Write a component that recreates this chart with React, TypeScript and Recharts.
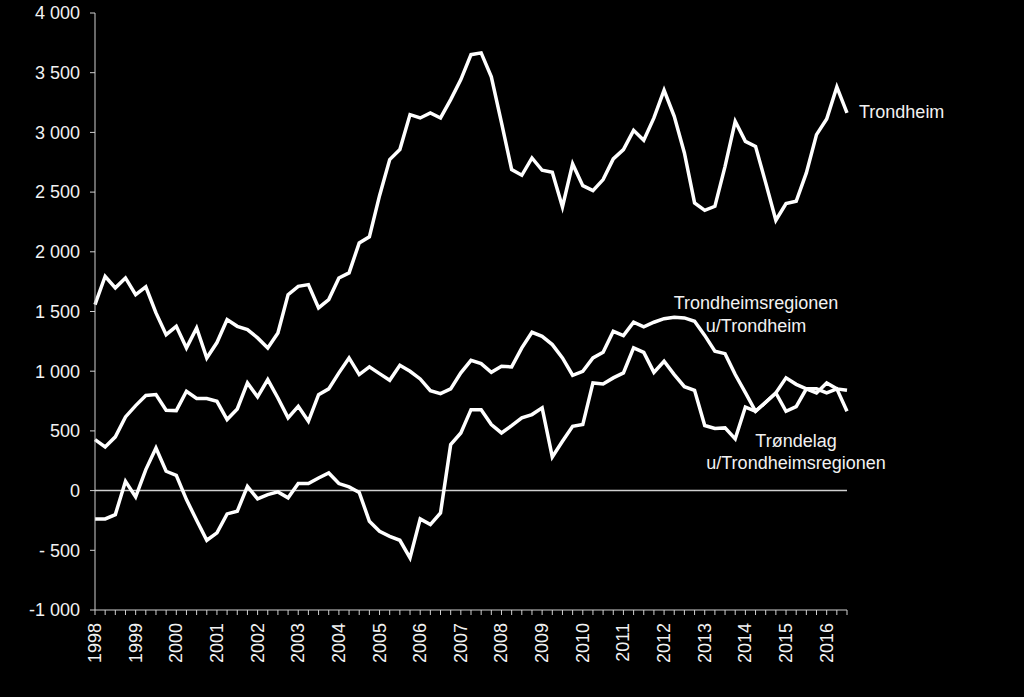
import { LineChart, Line, XAxis, YAxis, ReferenceLine } from "recharts";

// quarterly net migration, 1998 K1 - 2016 K3
const years = [1998, 1999, 2000, 2001, 2002, 2003, 2004, 2005, 2006, 2007, 2008, 2009, 2010, 2011, 2012, 2013, 2014, 2015, 2016];
const quarters: string[] = [];
years.forEach((y) => {
    for (let q = 1; q <= 4; q++) {
        if (y === 2016 && q === 4) return;
        quarters.push(`${y}K${q}`);
    }
});

const trondheim = [
    1558, 1795, 1698, 1781, 1641, 1706, 1488, 1306, 1376, 1195,
    1362, 1110, 1240, 1432, 1376, 1348, 1279, 1195, 1320, 1641,
    1711, 1725, 1530, 1600, 1781, 1823, 2074, 2125, 2470, 2772,
    2856, 3149, 3121, 3163, 3121, 3275, 3442, 3651, 3666, 3465,
    3082, 2688, 2641, 2786, 2683, 2666, 2376, 2736, 2554, 2512,
    2605, 2778, 2856, 3017, 2934, 3121, 3353, 3135, 2828, 2409,
    2347, 2381, 2716, 3093, 2925, 2883, 2577, 2264, 2404, 2423,
    2661, 2981, 3113, 3381, 3163,
];

const regionen = [
    427, 366, 450, 617, 712, 796, 804, 673, 670, 832,
    771, 771, 748, 595, 684, 902, 785, 930, 776, 609,
    706, 580, 804, 852, 986, 1111, 972, 1036, 980, 924,
    1049, 999, 935, 837, 812, 852, 986, 1091, 1064, 991,
    1041, 1036, 1195, 1326, 1292, 1223, 1111, 966, 999, 1111,
    1158, 1334, 1298, 1410, 1371, 1410, 1440, 1452, 1446, 1418,
    1300, 1167, 1147, 972, 820, 664, 740, 818, 944, 890,
    852, 818, 902, 852, 840,
];

const trondelag = [
    -237, -237, -201, 78, -53, 176, 357, 162, 128, -75,
    -249, -416, -354, -195, -173, 36, -70, -34, -11, -61,
    59, 59, 106, 148, 59, 31, -15, -257, -341, -383,
    -416, -564, -237, -285, -187, 385, 483, 678, 678, 553,
    483, 544, 609, 637, 693, 282, 413, 539, 553, 902,
    893, 944, 986, 1195, 1158, 990, 1083, 972, 870, 840,
    545, 520, 525, 433, 700, 664, 740, 818, 664, 703,
    852, 852, 818, 852, 664,
];

const yTicks = [-1000, -500, 0, 500, 1000, 1500, 2000, 2500, 3000, 3500, 4000];

const data = quarters.map((q, i) => ({
    q,
    trondheim: trondheim[i],
    regionen: regionen[i],
    trondelag: trondelag[i],
}));

const FONT = "'Liberation Sans', Arial, sans-serif";
const TEXT = "#f2f2f2";
const AXIS = "#d0d0d0";
const FS = 18;

const formatY = (v: number) => {
    if (v === 0) return "0";
    const abs = Math.abs(v);
    const s = abs >= 1000 ? `${Math.floor(abs / 1000)} ${String(abs % 1000).padStart(3, "0")}` : `${abs}`;
    if (v < 0) return abs >= 1000 ? `-${s}` : `- ${s}`;
    return s;
};

const YearTick = ({ x, y, payload }: any) => {
    const label: string = payload.value;
    if (!label.endsWith("K1")) return null;
    return (
        <text
            x={x}
            y={y}
            transform={`rotate(-90, ${x}, ${y})`}
            textAnchor="end"
            dominantBaseline="central"
            fill={TEXT}
            fontSize={FS}
            fontFamily={FONT}
        >
            {label.slice(0, 4)}
        </text>
    );
};

const SeriesLabels = () => (
    <g fill={TEXT} fontSize={FS} fontFamily={FONT}>
        <text x={859} y={118}>Trondheim</text>
        <text x={756} y={309} textAnchor="middle">Trondheimsregionen</text>
        <text x={756} y={332} textAnchor="middle">u/Trondheim</text>
        <text x={796} y={447} textAnchor="middle">Trøndelag</text>
        <text x={796} y={469} textAnchor="middle">u/Trondheimsregionen</text>
    </g>
);

export default function App() {
    return (
        <div style={{ position: "absolute", left: 0, top: 0, width: 1024, height: 697, background: "#000" }}>
            <LineChart
                width={1024}
                height={697}
                data={data}
                margin={{ top: 13, right: 177, left: 10, bottom: 27 }}
            >
                <XAxis
                    dataKey="q"
                    interval={0}
                    height={60}
                    axisLine={{ stroke: AXIS }}
                    tickLine={{ stroke: AXIS }}
                    tickSize={5}
                    tickMargin={8}
                    tick={<YearTick />}
                />
                <YAxis
                    domain={[-1000, 4000]}
                    ticks={yTicks}
                    width={85}
                    interval={0}
                    axisLine={{ stroke: AXIS }}
                    tickLine={{ stroke: AXIS }}
                    tickSize={5}
                    tickMargin={10}
                    tickFormatter={formatY}
                    tick={{ fill: TEXT, fontSize: FS, fontFamily: FONT }}
                />
                <ReferenceLine y={0} stroke={AXIS} strokeWidth={1.5} />
                <Line type="linear" dataKey="trondheim" stroke="#ffffff" strokeWidth={3.5} dot={false} activeDot={false} isAnimationActive={false} />
                <Line type="linear" dataKey="regionen" stroke="#ffffff" strokeWidth={3.5} dot={false} activeDot={false} isAnimationActive={false} />
                <Line type="linear" dataKey="trondelag" stroke="#ffffff" strokeWidth={3.5} dot={false} activeDot={false} isAnimationActive={false} />
                <SeriesLabels />
            </LineChart>
        </div>
    );
}
